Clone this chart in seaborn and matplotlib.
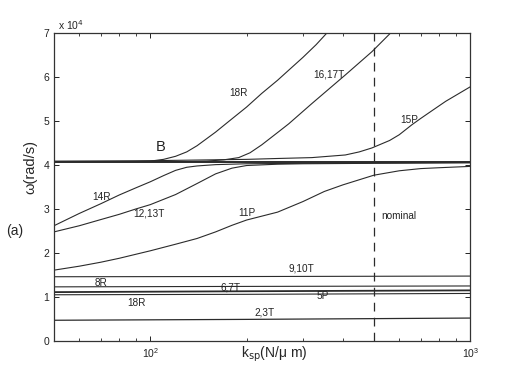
import numpy as np
import pandas as pd
import matplotlib
matplotlib.use("Agg")
import matplotlib.pyplot as plt
import seaborn as sns
from matplotlib.ticker import LogLocator, NullFormatter

# =========================
# Dados (omega em unidades de 10^4 rad/s)
# =========================

k_grid = [50, 60, 70, 80, 90, 100, 120, 140, 160, 180, 200, 250, 300, 350, 400, 500, 600, 700, 800, 1000]

# modos que sobem (acoplados com o modo B)
k_18R = [50, 90, 100, 110, 120, 130, 140, 150, 160, 175, 200, 223, 250, 270, 300, 330, 356]
w_18R = [4.08, 4.08, 4.09, 4.13, 4.20, 4.30, 4.44, 4.60, 4.75, 4.98, 5.32, 5.63, 5.93, 6.15, 6.45, 6.74, 7.0]

k_16T = [50, 130, 150, 170, 189, 205, 223, 252, 271, 320, 407, 493, 563]
w_16T = [4.08, 4.08, 4.09, 4.12, 4.17, 4.28, 4.46, 4.76, 4.94, 5.40, 6.05, 6.58, 7.0]

k_15P = [50, 100, 200, 250, 320, 407, 450, 493, 560, 600, 658, 700, 750, 838, 1000]
w_15P = [4.09, 4.10, 4.13, 4.15, 4.17, 4.23, 4.30, 4.39, 4.56, 4.69, 4.92, 5.06, 5.21, 5.45, 5.78]

k_B = [50, 1000]
w_B = [4.08, 4.08]

k_14R = [50, 60, 70, 80, 90, 100, 110, 120, 130, 140, 160, 200, 300, 500, 1000]
w_14R = [2.62, 2.90, 3.12, 3.32, 3.48, 3.62, 3.76, 3.88, 3.95, 3.98, 4.01, 4.03, 4.04, 4.05, 4.06]

k_12T = [50, 60, 70, 80, 90, 100, 120, 140, 160, 180, 200, 250, 300, 500, 1000]
w_12T = [2.48, 2.62, 2.76, 2.88, 3.0, 3.1, 3.33, 3.58, 3.80, 3.93, 3.99, 4.02, 4.03, 4.04, 4.05]

w_11P = [1.61, 1.70, 1.79, 1.88, 1.97, 2.05, 2.20, 2.33, 2.48, 2.63, 2.75, 2.93, 3.17, 3.40, 3.55,
         3.77, 3.87, 3.92, 3.94, 3.97]

# modos quase constantes
k_flat = [50, 200, 1000]
w_910T = [1.46, 1.465, 1.475]
w_8R = [1.23, 1.24, 1.25]
w_67T = [1.11, 1.13, 1.15]
w_5P = [1.05, 1.06, 1.08]
w_23T = [0.47, 0.49, 0.52]

k_nominal = 500

curves = [
    (k_18R, w_18R, 0.8), (k_16T, w_16T, 0.8), (k_15P, w_15P, 0.8), (k_B, w_B, 1.4),
    (k_14R, w_14R, 0.8), (k_12T, w_12T, 0.8), (k_grid, w_11P, 0.8),
    (k_flat, w_910T, 0.8), (k_flat, w_8R, 0.8), (k_flat, w_67T, 1.3), (k_flat, w_5P, 0.8),
    (k_flat, w_23T, 0.9),
]

labels = [
    ("18R", 189, 5.63), ("16,17T", 361, 6.06), ("15P", 646, 5.02), ("14R", 70.3, 3.27),
    ("12,13T", 98.8, 2.90), ("11P", 200, 2.90), ("nominal", 597, 2.85), ("9,10T", 297, 1.65),
    ("8R", 70.3, 1.32), ("6,7T", 178.5, 1.21), ("5P", 347, 1.03), ("18R", 90.4, 0.87),
    ("2,3T", 228, 0.65),
]

# =========================
# Figura
# =========================

sns.set_style("ticks")
plt.rcParams["font.family"] = ["Liberation Sans", "DejaVu Sans"]
plt.rcParams["xtick.direction"] = "in"
plt.rcParams["ytick.direction"] = "in"

fig = plt.figure(figsize=(5.19, 3.73), dpi=100)
ax = fig.add_axes([0.104, 0.086, 0.802, 0.825])

line_color = "#2b2b2b"
for k, w, lw in curves:
    sns.lineplot(x=k, y=w, ax=ax, color=line_color, linewidth=lw, estimator=None)

ax.axvline(k_nominal, color=line_color, linewidth=0.9, linestyle=(0, (7, 5)))

ax.set_xscale("log")
ax.set_xlim(50, 1000)
ax.set_ylim(0, 7)
ax.set_yticks(range(0, 8))
ax.xaxis.set_minor_locator(LogLocator(base=10, subs=np.arange(2, 10)))
ax.xaxis.set_minor_formatter(NullFormatter())
ax.tick_params(which="both", top=True, right=True, labelsize=7.5, colors="#222222")
ax.tick_params(which="major", length=3.5, width=0.7)
ax.tick_params(which="minor", length=2, width=0.6)
for s in ax.spines.values():
    s.set_linewidth(0.9)
    s.set_color("#333333")

for txt, x, y in labels:
    ax.text(x, y, txt, fontsize=7.2, ha="center", va="center", color="#222222")
ax.text(108, 4.40, "B", fontsize=10.5, ha="center", va="center", color="#222222")

ax.text(0.01, 1.005, "x 10$^4$", transform=ax.transAxes, fontsize=7.5, ha="left", va="bottom")
ax.set_xlabel("k$_{\\mathrm{sp}}$(N/μ m)", fontsize=10)
ax.xaxis.set_label_coords(0.53, -0.012)
ax.set_ylabel("ω(rad/s)", fontsize=10.5)
ax.yaxis.set_label_coords(-0.041, 0.565)
fig.text(0.029, 0.38, "(a)", fontsize=10, ha="center", va="center")

fig.savefig("out.png", dpi=100)
